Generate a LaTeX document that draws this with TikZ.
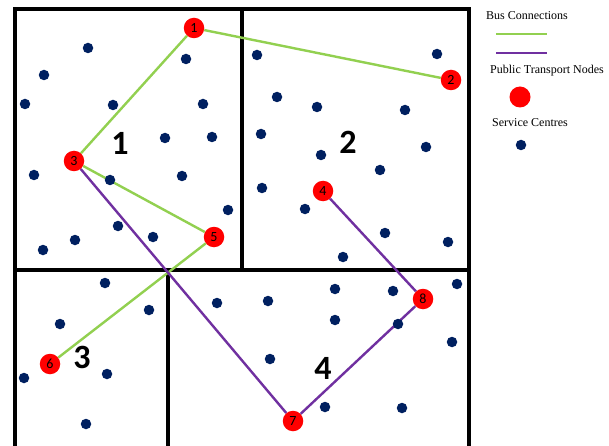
\documentclass[tikz,border=0pt]{standalone}
\usepackage{fontspec}
\setmainfont{Liberation Serif}
\newfontfamily\calib{Carlito}
\definecolor{busgreen}{HTML}{92D050}
\definecolor{buspurple}{HTML}{7030A0}
\definecolor{navydot}{HTML}{002060}
\tikzset{
  frameline/.style={line width=4pt, black},
  tnode/.style={circle, fill=red, minimum size=20.5pt, inner sep=0pt, font=\calib\fontsize{14}{14}\selectfont},
  svc/.style={circle, fill=navydot, minimum size=10.5pt, inner sep=0pt},
  greenbus/.style={busgreen, line width=2.4pt},
  purplebus/.style={buspurple, line width=2.4pt},
  region/.style={font=\calib\bfseries\fontsize{34}{34}\selectfont, inner sep=0pt},
  legtext/.style={font=\fontsize{12}{12}\selectfont, inner sep=0pt}
}
\begin{document}
\begin{tikzpicture}[x=1pt,y=-1pt]
\useasboundingbox (0,0) rectangle (609,446);
\clip (0,0) rectangle (609,446);
\fill[white] (0,0) rectangle (609,446);
% frame
\draw[frameline] (14.5,460) -- (14.5,9) -- (469,9) -- (469,460);
\draw[frameline] (14.5,270) -- (469,270);
\draw[frameline] (242,9) -- (242,270);
\draw[frameline] (168,270) -- (168,460);
% transport nodes
\node[tnode] (p1) at (194,28) {1};
\node[tnode] (p2) at (451,80) {2};
\node[tnode] (p3) at (74,161) {3};
\node[tnode] (p4) at (323,191) {4};
\node[tnode] (p5) at (214,237) {5};
\node[tnode] (p6) at (50,364) {6};
\node[tnode] (p7) at (293,421) {7};
\node[tnode] (p8) at (423,299) {8};
% connections
\draw[greenbus] (p1) -- (p2);
\draw[greenbus] (p1) -- (p3);
\draw[greenbus] (p3) -- (p5);
\draw[greenbus] (p5) -- (p6);
\draw[purplebus] (p3) -- (p7);
\draw[purplebus] (p4) -- (p8);
\draw[purplebus] (p8) -- (p7);
% service centres, region 1
\node[svc] (a1) at (88,48) {};
\node[svc] (a2) at (44,75) {};
\node[svc] (a3) at (25,104) {};
\node[svc] (a4) at (113,105) {};
\node[svc] (a5) at (186,59) {};
\node[svc] (a6) at (203,104) {};
\node[svc] (a7) at (165,138) {};
\node[svc] (a8) at (212,137) {};
\node[svc] (a9) at (34,175) {};
\node[svc] (a10) at (110,180) {};
\node[svc] (a11) at (182,176) {};
\node[svc] (a12) at (228,210) {};
\node[svc] (a13) at (118,226) {};
\node[svc] (a14) at (153,237) {};
\node[svc] (a15) at (75,240) {};
\node[svc] (a16) at (43,250) {};
% region 2
\node[svc] (b1) at (257,55) {};
\node[svc] (b2) at (437,54) {};
\node[svc] (b3) at (277,97) {};
\node[svc] (b4) at (317,107) {};
\node[svc] (b5) at (405,110) {};
\node[svc] (b6) at (261,134) {};
\node[svc] (b7) at (426,147) {};
\node[svc] (b8) at (321,155) {};
\node[svc] (b9) at (380,170) {};
\node[svc] (b10) at (262,188) {};
\node[svc] (b11) at (305,209) {};
\node[svc] (b12) at (385,233) {};
\node[svc] (b13) at (448,242) {};
\node[svc] (b14) at (343,257) {};
% region 3
\node[svc] (c1) at (105,283) {};
\node[svc] (c2) at (149,310) {};
\node[svc] (c3) at (60,324) {};
\node[svc] (c4) at (24,378) {};
\node[svc] (c5) at (107,374) {};
\node[svc] (c6) at (86,424) {};
% region 4
\node[svc] (e1) at (217,303) {};
\node[svc] (e2) at (268,301) {};
\node[svc] (e3) at (335,289) {};
\node[svc] (e4) at (393,291) {};
\node[svc] (e5) at (457,284) {};
\node[svc] (e6) at (335,320) {};
\node[svc] (e7) at (398,324) {};
\node[svc] (e8) at (452,342) {};
\node[svc] (e9) at (270,359) {};
\node[svc] (e10) at (325,407) {};
\node[svc] (e11) at (402,408) {};
% region labels
\node[region] (r1) at (120,143) {1};
\node[region] (r2) at (348,142) {2};
\node[region] (r3) at (82,357) {3};
\node[region] (r4) at (323,368) {4};
% legend
\node[legtext] (l1) at (527,16) {Bus Connections};
\coordinate (g1) at (496,34);
\coordinate (g2) at (547,34);
\draw[greenbus] (g1) -- (g2);
\coordinate (u1) at (496,53);
\coordinate (u2) at (547,53);
\draw[purplebus] (u1) -- (u2);
\node[legtext] (l2) at (547,71) {Public Transport Nodes};
\node[circle, fill=red, minimum size=21pt, inner sep=0pt] (lr) at (520,97) {};
\node[legtext] (l3) at (530,123) {Service Centres};
\node[svc] (ld) at (521,145) {};
\end{tikzpicture}
\end{document}
